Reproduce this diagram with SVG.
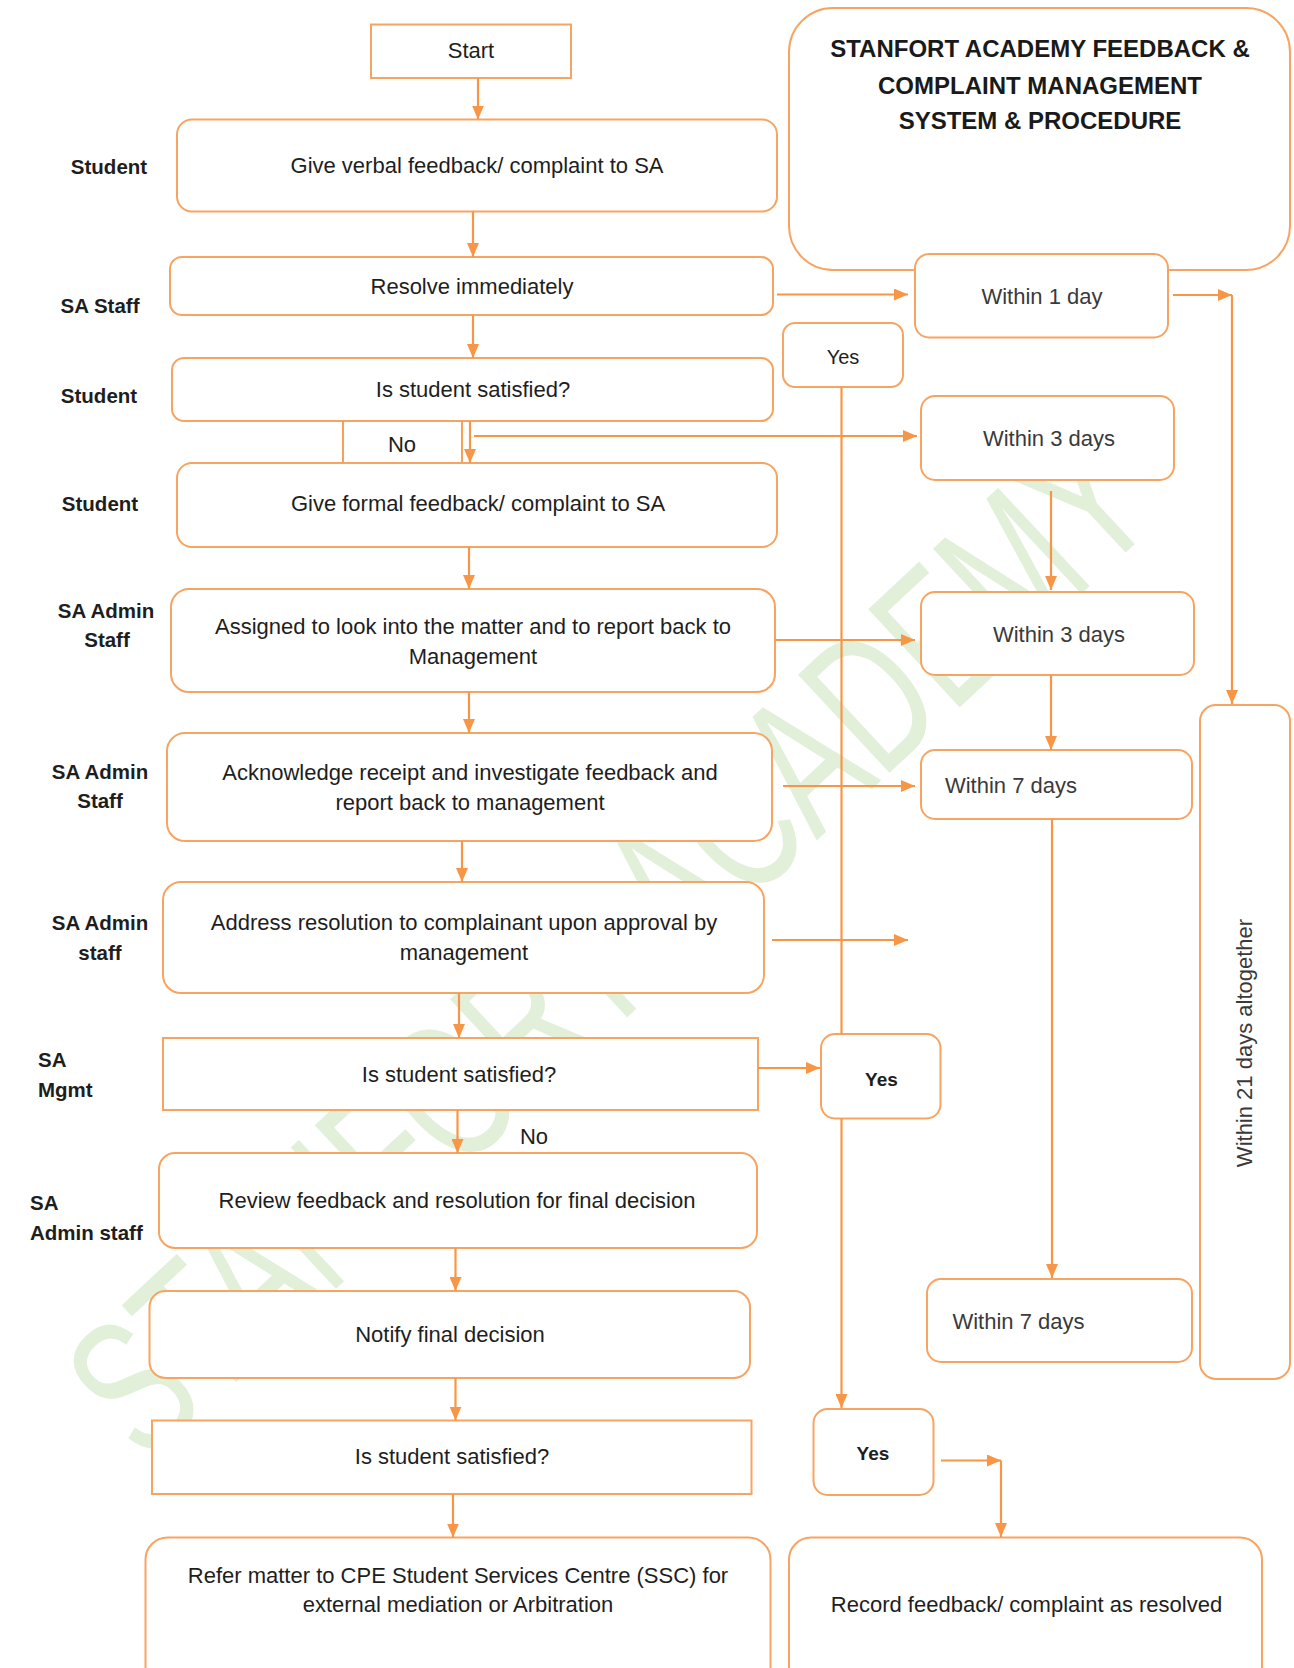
<svg xmlns="http://www.w3.org/2000/svg" width="1294" height="1668" viewBox="0 0 1294 1668">
<style>
  .bx{fill:#ffffff;stroke:#F7A462;stroke-width:2}
  .ln{fill:none;stroke:#F79646;stroke-width:2.2}
  .ar{fill:none;stroke:#F79646;stroke-width:2.2;marker-end:url(#ah)}
  text{font-family:"Liberation Sans",Arial,sans-serif}
  .t{font-size:22px;fill:#1e1e1e;text-anchor:middle}
  .w{font-size:22px;fill:#3a3a3a;text-anchor:middle}
  .lb{font-size:20.5px;font-weight:bold;fill:#1e1e1e;text-anchor:middle}
  .lbl{font-size:20.5px;font-weight:bold;fill:#1e1e1e}
  .ttl{font-size:24px;font-weight:bold;fill:#1a1a1a;text-anchor:middle}
  .yb{font-size:19px;font-weight:bold;fill:#1e1e1e;text-anchor:middle}
  .wm{font-size:195px;fill:#e2efd9}
</style>
<defs>
  <marker id="ah" markerUnits="userSpaceOnUse" markerWidth="14" markerHeight="12" refX="14" refY="6" orient="auto">
    <path d="M0,0 L14,6 L0,12 z" fill="#F79646"/>
  </marker>
</defs>
<rect x="0" y="0" width="1294" height="1668" fill="#ffffff"/>

<g id="watermark">
  <text class="wm" transform="translate(146,1466) rotate(-43)" textLength="1390" lengthAdjust="spacingAndGlyphs">STANFORT ACADEMY</text>
</g>

<g id="lane-labels">
  <text class="lb" x="109" y="174">Student</text>
  <text class="lb" x="100" y="313">SA Staff</text>
  <text class="lb" x="99" y="403">Student</text>
  <text class="lb" x="100" y="511">Student</text>
  <text class="lb" x="106" y="618">SA Admin</text>
  <text class="lb" x="107" y="647">Staff</text>
  <text class="lb" x="100" y="779">SA Admin</text>
  <text class="lb" x="100" y="808">Staff</text>
  <text class="lb" x="100" y="930">SA Admin</text>
  <text class="lb" x="100" y="960">staff</text>
  <text class="lbl" x="38" y="1067">SA</text>
  <text class="lbl" x="38" y="1097">Mgmt</text>
  <text class="lbl" x="30" y="1210">SA</text>
  <text class="lbl" x="30" y="1240">Admin staff</text>
</g>

<g id="n-start">
  <rect class="bx" x="371" y="24.5" width="200" height="53.5"/>
  <text class="t" x="471" y="58">Start</text>
</g>
<g id="n-verbal">
  <rect class="bx" x="177" y="119.5" width="600" height="92" rx="15"/>
  <text class="t" x="477" y="173">Give verbal feedback/ complaint to SA</text>
</g>
<g id="n-resolve">
  <rect class="bx" x="170" y="257" width="603" height="58" rx="12"/>
  <text class="t" x="472" y="294">Resolve immediately</text>
</g>
<g id="n-satisfied1">
  <rect class="bx" x="172" y="358" width="601" height="63" rx="12"/>
  <text class="t" x="473" y="397">Is student satisfied?</text>
</g>
<g id="n-no1">
  <line class="ln" x1="343" y1="421" x2="343" y2="463" style="stroke-width:1.8"/>
  <line class="ln" x1="462" y1="421" x2="462" y2="463" style="stroke-width:1.8"/>
  <text class="t" x="402" y="452">No</text>
</g>
<g id="n-formal">
  <rect class="bx" x="177" y="463" width="600" height="84" rx="15"/>
  <text class="t" x="478" y="511">Give formal feedback/ complaint to SA</text>
</g>
<g id="n-assigned">
  <rect class="bx" x="171" y="589" width="604" height="103" rx="18"/>
  <text class="t" x="473" y="634">Assigned to look into the matter and to report back to</text>
  <text class="t" x="473" y="664">Management</text>
</g>
<g id="n-acknowledge">
  <rect class="bx" x="167" y="733" width="605" height="108" rx="18"/>
  <text class="t" x="470" y="780">Acknowledge receipt and investigate feedback and</text>
  <text class="t" x="470" y="810">report back to management</text>
</g>
<g id="n-address">
  <rect class="bx" x="163" y="882" width="601" height="111" rx="18"/>
  <text class="t" x="464" y="930">Address resolution to complainant upon approval by</text>
  <text class="t" x="464" y="960">management</text>
</g>
<g id="n-satisfied2">
  <rect class="bx" x="163" y="1038" width="595" height="72"/>
  <text class="t" x="459" y="1082">Is student satisfied?</text>
</g>
<g id="n-no2">
  <text class="t" x="534" y="1144">No</text>
</g>
<g id="n-review">
  <rect class="bx" x="159" y="1153" width="598" height="95" rx="16"/>
  <text class="t" x="457" y="1208">Review feedback and resolution for final decision</text>
</g>
<g id="n-notify">
  <rect class="bx" x="149.5" y="1291" width="600.5" height="87" rx="16"/>
  <text class="t" x="450" y="1342">Notify final decision</text>
</g>
<g id="n-satisfied3">
  <rect class="bx" x="152" y="1420.5" width="599.5" height="73.5"/>
  <text class="t" x="452" y="1464">Is student satisfied?</text>
</g>
<g id="n-refer">
  <rect class="bx" x="145.5" y="1537.5" width="625" height="170" rx="22"/>
  <text class="t" x="458" y="1583">Refer matter to CPE Student Services Centre (SSC) for</text>
  <text class="t" x="458" y="1612">external mediation or Arbitration</text>
</g>

<g id="n-title">
  <rect class="bx" x="789" y="8" width="501" height="262" rx="44"/>
  <text class="ttl" x="1040" y="57">STANFORT ACADEMY FEEDBACK &amp;</text>
  <text class="ttl" x="1040" y="93.5">COMPLAINT MANAGEMENT</text>
  <text class="ttl" x="1040" y="129">SYSTEM &amp; PROCEDURE</text>
</g>
<g id="n-within1">
  <rect class="bx" x="915" y="254" width="253" height="83.5" rx="14"/>
  <text class="w" x="1042" y="303.5">Within 1 day</text>
</g>
<g id="n-yes1">
  <rect class="bx" x="783" y="323" width="120" height="64" rx="12"/>
  <text class="t" x="843" y="364" style="font-size:20px">Yes</text>
</g>
<g id="n-within3a">
  <rect class="bx" x="921" y="396" width="253" height="84" rx="14"/>
  <text class="w" x="1049" y="446">Within 3 days</text>
</g>
<g id="n-within3b">
  <rect class="bx" x="921" y="592" width="273" height="83" rx="14"/>
  <text class="w" x="1059" y="642">Within 3 days</text>
</g>
<g id="n-within7a">
  <rect class="bx" x="921" y="750" width="271" height="69" rx="14"/>
  <text class="w" x="1011" y="793">Within 7 days</text>
</g>
<g id="n-within21">
  <rect class="bx" x="1200" y="705" width="90" height="674" rx="16"/>
  <text class="w" transform="translate(1252,1043) rotate(-90)">Within 21 days altogether</text>
</g>
<g id="n-yes2">
  <rect class="bx" x="821" y="1034" width="119.5" height="84.5" rx="14"/>
  <text class="yb" x="881.5" y="1085.5">Yes</text>
</g>
<g id="n-within7b">
  <rect class="bx" x="927" y="1279" width="265" height="83" rx="14"/>
  <text class="w" x="1018.5" y="1329">Within 7 days</text>
</g>
<g id="n-yes3">
  <rect class="bx" x="813.5" y="1409" width="120" height="86" rx="14"/>
  <text class="yb" x="873" y="1459.5">Yes</text>
</g>
<g id="n-record">
  <rect class="bx" x="789" y="1537.5" width="473" height="170" rx="22"/>
  <text class="t" x="1026.5" y="1612">Record feedback/ complaint as resolved</text>
</g>

<g id="connectors">
  <line class="ar" x1="478" y1="78" x2="478" y2="119.5"/>
  <line class="ar" x1="473" y1="211.5" x2="473" y2="257"/>
  <line class="ar" x1="473" y1="315" x2="473" y2="358"/>
  <line class="ar" x1="470" y1="421" x2="470" y2="463"/>
  <line class="ar" x1="474" y1="436" x2="917" y2="436"/>
  <line class="ar" x1="469" y1="547" x2="469" y2="589"/>
  <line class="ar" x1="469" y1="692" x2="469" y2="733"/>
  <line class="ar" x1="462" y1="841" x2="462" y2="882"/>
  <line class="ar" x1="459" y1="993" x2="459" y2="1038"/>
  <line class="ar" x1="457.5" y1="1110" x2="457.5" y2="1153"/>
  <line class="ar" x1="455.5" y1="1248" x2="455.5" y2="1291"/>
  <line class="ar" x1="455.5" y1="1378" x2="455.5" y2="1420.5"/>
  <line class="ar" x1="453" y1="1494" x2="453" y2="1537.5"/>
  <line class="ar" x1="777" y1="294.5" x2="908" y2="294.5"/>
  <line class="ar" x1="1173" y1="295" x2="1232" y2="295"/>
  <line class="ar" x1="1232" y1="295" x2="1232" y2="704"/>
  <line class="ln" x1="841.5" y1="387" x2="841.5" y2="1034"/>
  <line class="ar" x1="1051" y1="491" x2="1051" y2="590"/>
  <line class="ar" x1="775" y1="640" x2="915" y2="640"/>
  <line class="ar" x1="1051" y1="675" x2="1051" y2="750"/>
  <line class="ar" x1="783" y1="786" x2="915" y2="786"/>
  <line class="ar" x1="1052" y1="819" x2="1052" y2="1278"/>
  <line class="ar" x1="772" y1="940" x2="908" y2="940"/>
  <line class="ar" x1="758" y1="1068" x2="820" y2="1068"/>
  <line class="ar" x1="841.5" y1="1118.5" x2="841.5" y2="1408"/>
  <line class="ar" x1="941" y1="1460.5" x2="1001" y2="1460.5"/>
  <line class="ar" x1="1001" y1="1460.5" x2="1001" y2="1537"/>
</g>
</svg>
